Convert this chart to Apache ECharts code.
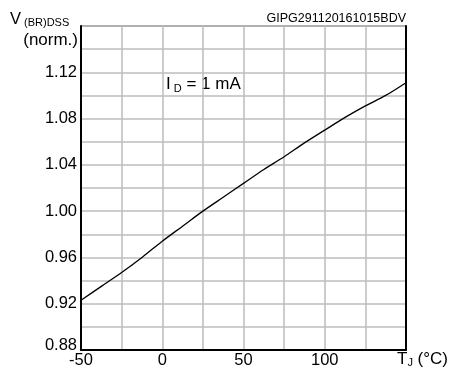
<!DOCTYPE html>
<html>
<head>
<meta charset="utf-8">
<script src="https://cdn.jsdelivr.net/npm/echarts@6/dist/echarts.min.js"></script>
<style>
  html, body { margin: 0; padding: 0; background: #fff; }
  #chart { width: 450px; height: 371px; }
</style>
</head>
<body>
<div id="chart"></div>
<script>
// Normalized breakdown voltage vs. junction temperature, ID = 1 mA
const temperatureC = [-50, -37.5, -25, -12.5, 0, 12.5, 25, 37.5, 50, 62.5, 75, 87.5, 100, 112.5, 125, 137.5, 150];
const vbrNorm = [0.923, 0.935, 0.947, 0.960, 0.974, 0.987, 1.000, 1.012, 1.024, 1.036, 1.047, 1.059, 1.070, 1.081, 1.091, 1.100, 1.111];
const xTickLabels = [-50, 0, 50, 100];
const yTickLabels = ['0.88', '0.92', '0.96', '1.00', '1.04', '1.08', '1.12'];

const FONT = 'Liberation Sans, Arial, sans-serif';
const chart = echarts.init(document.getElementById('chart'), null, { renderer: 'canvas' });

chart.setOption({
  animation: false,
  backgroundColor: '#fff',
  grid: {
    left: 81, right: 44, top: 26, bottom: 21,
    show: true, borderColor: '#222', borderWidth: 1
  },
  xAxis: {
    type: 'value', min: -50, max: 150, interval: 25,
    axisLine: { show: true, onZero: false, lineStyle: { color: '#000', width: 2 } },
    axisTick: { show: false },
    splitLine: { show: true, lineStyle: { color: '#bdbdbd', width: 1.5 } },
    axisLabel: {
      color: '#000', fontFamily: FONT, fontSize: 16.5, margin: 2,
      formatter: v => (xTickLabels.indexOf(v) >= 0 ? String(v) : '')
    }
  },
  yAxis: [{
    type: 'value', min: 0.88, max: 1.16, interval: 0.02,
    axisLine: { show: true, onZero: false, lineStyle: { color: '#000', width: 2 } },
    axisTick: { show: false },
    splitLine: { show: true, lineStyle: { color: '#bdbdbd', width: 1.5 } },
    axisLabel: {
      color: '#000', fontFamily: FONT, fontSize: 16.5, margin: 4,
      formatter: v => {
        const s = v.toFixed(2);
        if (yTickLabels.indexOf(s) < 0) return '';
        // the lowest label sits just above the bottom edge
        return s === yTickLabels[0] ? '{lo|' + s + '}' : s;
      },
      rich: {
        lo: { fontFamily: FONT, fontSize: 16.5, color: '#000', padding: [0, 0, 9, 0] }
      }
    }
  }, {
    type: 'value', min: 0.88, max: 1.16, interval: 0.02, position: 'right',
    axisLine: { show: true, onZero: false, lineStyle: { color: '#000', width: 2 } },
    axisTick: { show: false }, axisLabel: { show: false }, splitLine: { show: false }
  }],
  series: [{
    type: 'line',
    data: temperatureC.map((t, i) => [t, vbrNorm[i]]),
    smooth: 0.3,
    showSymbol: false,
    lineStyle: { color: '#000', width: 1.3 },
    clip: true
  }],
  graphic: [
    {
      type: 'text', left: 10, top: 11,
      style: {
        text: '{b|V}{s| (BR)DSS}',
        rich: {
          b: { fontFamily: FONT, fontSize: 16.5, fill: '#000' },
          s: { fontFamily: FONT, fontSize: 11, fill: '#000', padding: [7, 0, 0, 0] }
        }
      }
    },
    {
      type: 'text', right: 372, top: 32,
      style: { text: '(norm.)', fontFamily: FONT, fontSize: 17, fill: '#000', textAlign: 'right' }
    },
    {
      type: 'text', right: 44, top: 12,
      style: { text: 'GIPG291120161015BDV', fontFamily: FONT, fontSize: 12.5, fill: '#000' }
    },
    {
      type: 'text', left: 166, top: 76,
      style: {
        text: '{b|I}{s| D}{b| = 1 mA}',
        rich: {
          b: { fontFamily: FONT, fontSize: 17, fill: '#000' },
          s: { fontFamily: FONT, fontSize: 11, fill: '#000', padding: [8, 0, 0, 0] }
        }
      }
    },
    {
      type: 'text', left: 397, top: 351,
      style: {
        text: '{b|T}{s|J}{b| (°C)}',
        rich: {
          b: { fontFamily: FONT, fontSize: 17, fill: '#000' },
          s: { fontFamily: FONT, fontSize: 11, fill: '#000', padding: [6, 0, 0, 0] }
        }
      }
    }
  ]
});
</script>
</body>
</html>
